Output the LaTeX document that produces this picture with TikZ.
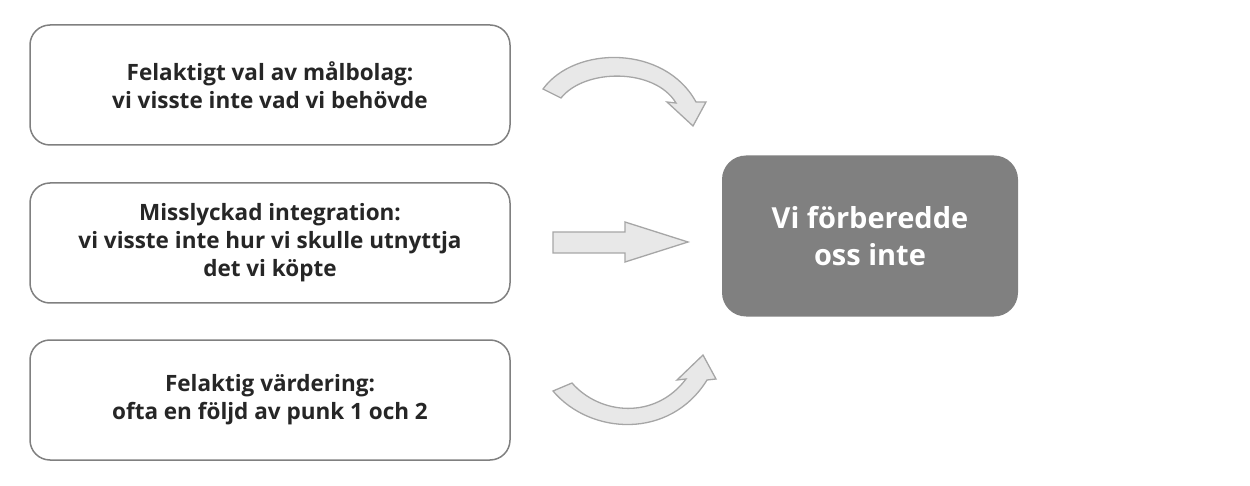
\documentclass[tikz,border=0pt]{standalone}
\usepackage{fontspec}
\setmainfont{Open Sans}[Ligatures=CommonOff]
\begin{document}
\begin{tikzpicture}[x=1pt,y=-1pt,
  srcbox/.style={draw=black!50,line width=1.5pt,rounded corners=20pt,fill=white,
    minimum width=480pt,minimum height=120pt,align=center,
    font=\fontsize{22.5}{28}\selectfont\bfseries,text=black!85},
  goal/.style={fill=black!50,rounded corners=24pt,minimum width=296pt,minimum height=161pt,
    align=center,font=\fontsize{29}{37}\selectfont\bfseries,text=white},
  bigarrow/.style={fill=black!9,draw=black!35,line width=1.3pt,line join=miter}]
\useasboundingbox (0,0) rectangle (1250,486);
\node[srcbox] (b1) at (270,85) {Felaktigt val av målbolag:\\vi visste inte vad vi behövde};
\node[srcbox] (b2) at (270,243) {Misslyckad integration:\\vi visste inte hur vi skulle utnyttja\\det vi köpte};
\node[srcbox] (b3) at (270,400) {Felaktig värdering:\\ofta en följd av punk 1 och 2};
\node[goal] (g) at (870,236) {Vi förberedde\\oss inte};
% top curved arrow
\draw[bigarrow] (543,89) .. controls (575,45) and (665,45) .. (696,102)
  -- (706,102) -- (693,126) -- (667,102) -- (676,103)
  .. controls (655,68) and (585,68) .. (561,98) -- cycle;
% straight arrow
\draw[bigarrow] (553,232) -- (625,232) -- (625,222) -- (688,242) -- (625,262)
  -- (625,253) -- (553,253) -- cycle;
% bottom curved arrow
\draw[bigarrow] (553,391) .. controls (590,435) and (670,440) .. (707,380)
  -- (716,379) -- (703,355) -- (677,380) -- (686,379)
  .. controls (655,420) and (600,415) .. (572,383) -- cycle;
\end{tikzpicture}
\end{document}
